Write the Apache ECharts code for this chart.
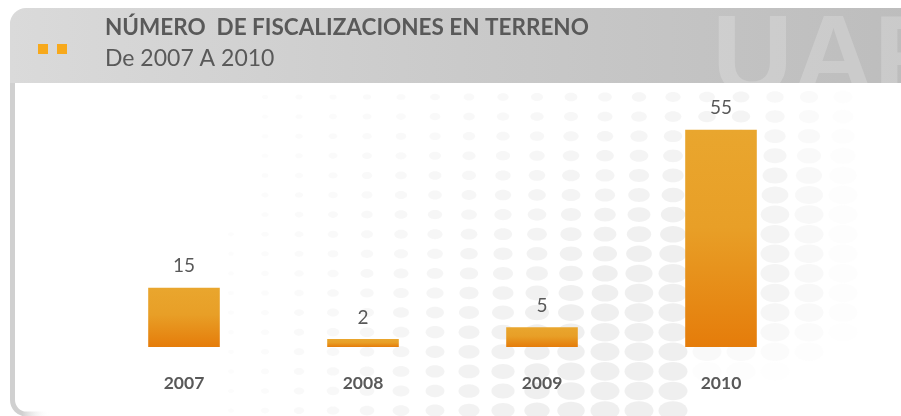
<!DOCTYPE html>
<html><head><meta charset="utf-8">
<script src="https://cdn.jsdelivr.net/npm/echarts@6/dist/echarts.min.js"></script>
<style>html,body{margin:0;padding:0;background:#fff}#c{width:901px;height:416px}</style>
</head><body><div id="c"></div>
<script>
var categories = ['2007', '2008', '2009', '2010'];
var values = [15, 2, 5, 55];
var titleText = 'NÚMERO  DE FISCALIZACIONES EN TERRENO';
var subtitleText = 'De 2007 A 2010';

var chart = echarts.init(document.getElementById('c'), null, {renderer: 'canvas'});

// decorative halftone dots (background texture only)
var dots = [];
for (var cx = 231; cx <= 880; cx += 34) {
  for (var cy = 97; cy <= 412; cy += 19.6) {
    var a = Math.max(0, (cx - 215) / 380);
    var b = 0.35 + 0.65 * Math.min(1, Math.max(0, (cy - 97) / 240));
    var s = Math.min(1, a * b);
    var fade = cx > 740 ? Math.max(0, 1 - (cx - 740) / 120) : 1;
    if (cy > 300 && cx > 700) fade *= Math.max(0, 1 - (cy - 300) / 80);
    var rx = 2.5 + s * 12, ry = 1.8 + s * 7.5;
    var op = Math.min(1, 0.15 + s) * fade;
    if (op < 0.06 || s <= 0.03) continue;
    dots.push({type: 'ellipse', shape: {cx: cx, cy: cy, rx: rx, ry: ry}, style: {fill: 'rgba(220,220,220,' + (op * 0.45).toFixed(3) + ')'}, silent: true});
  }
}

var option = {
  backgroundColor: '#ffffff',
  animation: false,
  graphic: [
    {type: 'rect', z: -10, shape: {x: 12.5, y: 12, width: 1000, height: 402, r: 14},
      style: {fill: '#fff', lineWidth: 5, stroke: new echarts.graphic.LinearGradient(0, 0, 1, 0, [{offset: 0, color: '#d0d0d0'}, {offset: 0.012, color: '#d0d0d0'}, {offset: 0.04, color: 'rgba(255,255,255,0)'}, {offset: 1, color: 'rgba(255,255,255,0)'}])}, silent: true},
    {type: 'group', z: -9, children: dots},
    {type: 'rect', z: -5, shape: {x: 10, y: 8, width: 900, height: 75, r: [16, 0, 0, 0]},
      style: {fill: new echarts.graphic.LinearGradient(0, 0, 1, 0, [{offset: 0, color: '#dadada'}, {offset: 0.5, color: '#cacaca'}, {offset: 1, color: '#bdbdbd'}])}, silent: true},
    {type: 'text', z: -4, style: {x: 712, y: 6, text: 'UAF', font: 'bold 112px "Liberation Sans", sans-serif', fill: 'rgba(255,255,255,0.2)'}, silent: true},
    {type: 'rect', z: -3, shape: {x: 16, y: 83, width: 894, height: 12}, style: {fill: '#fff'}, silent: true},
    {type: 'rect', shape: {x: 38, y: 44, width: 10, height: 10}, style: {fill: '#f7a91c'}, silent: true},
    {type: 'rect', shape: {x: 57, y: 44, width: 10, height: 10}, style: {fill: '#f7a91c'}, silent: true},
    {type: 'text', style: {x: 105, y: 16, text: titleText, font: 'bold 22.5px Lato, sans-serif', fill: '#595959'}, silent: true},
    {type: 'text', style: {x: 105, y: 47, text: subtitleText, font: '23px Lato, sans-serif', fill: '#595959'}, silent: true}
  ],
  grid: {left: 94.5, right: 90.5, top: 110, bottom: 69, containLabel: false},
  xAxis: {
    type: 'category', data: categories,
    axisLine: {show: false}, axisTick: {show: false},
    axisLabel: {margin: 27, fontFamily: 'Lato, sans-serif', fontWeight: 'bold', fontSize: 17.5, color: '#595959'}
  },
  yAxis: {type: 'value', min: 0, max: 60, show: false, splitLine: {show: false}},
  series: [{
    type: 'bar', data: values, barWidth: '40%',
    itemStyle: {color: new echarts.graphic.LinearGradient(0, 0, 0, 1, [{offset: 0, color: '#e9a62e'}, {offset: 0.45, color: '#e89f27'}, {offset: 1, color: '#e57c0a'}])},
    label: {show: true, position: 'top', distance: 12, fontFamily: 'Lato, sans-serif', fontSize: 19, color: '#595959'}
  }]
};
chart.setOption(option);
</script></body></html>
